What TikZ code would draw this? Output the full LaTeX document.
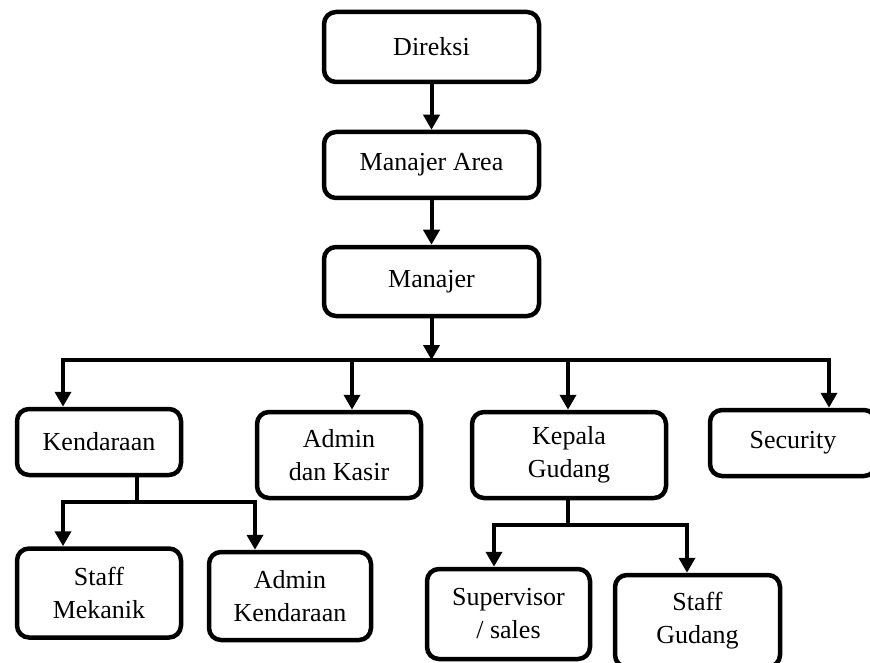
\documentclass[tikz,border=0pt]{standalone}
\usepackage{fontspec}
\setmainfont{Liberation Serif}
\usetikzlibrary{arrows.meta}
\tikzset{>={Triangle[length=15pt,width=16pt]}}
\tikzset{
  box/.style={draw,line width=4.5pt,rounded corners=12pt,align=center,
              inner sep=0pt,font=\fontsize{26}{33}\selectfont},
  link/.style={line width=4pt,line cap=rect},
  link arrow/.style={line width=4pt,->}
}

\begin{document}
\begin{tikzpicture}[x=1pt,y=-1pt]
  \useasboundingbox (0,0) rectangle (870,663);
  \clip (0,0) rectangle (870,663);

  % TOP
  \node[box,minimum width=215pt,minimum height=70pt] (direksi) at (431.5,47) {Direksi};
  \node[box,minimum width=215pt,minimum height=66pt] (area) at (431.5,165) {Manajer Area};
  \node[box,minimum width=215pt,minimum height=69pt] (manajer) at (431.5,281.5) {Manajer};

  % SECOND ROW
  \node[box,minimum width=164pt,minimum height=66pt] (kend) at (99,442) {Kendaraan};
  \node[box,minimum width=164pt,minimum height=86pt] (admin) at (339,455) {Admin\\dan Kasir};
  \node[box,minimum width=194pt,minimum height=86pt] (kepala) at (569,455) {Kepala\\Gudang};
  \node[box,minimum width=166pt,minimum height=66pt] (security) at (793,443) {Security};

  % THIRD ROW
  \node[box,minimum width=164pt,minimum height=89pt] (mekanik) at (99,593) {Staff\\Mekanik};
  \node[box,minimum width=162pt,minimum height=88pt] (adkend) at (290,596) {Admin\\Kendaraan};
  \node[box,minimum width=163pt,minimum height=90pt] (super) at (508.5,614) {Supervisor\\/ sales};
  \node[box,minimum width=165pt,minimum height=92pt] (sgudang) at (697.5,621) {Staff\\Gudang};

  % LINES
  \draw[link arrow] (direksi) -- (area);
  \draw[link arrow] (area) -- (manajer);

  \coordinate (b1) at (63,360);
  \coordinate (b2) at (352,360);
  \coordinate (b3) at (568,360);
  \coordinate (b4) at (829,360);
  \draw[link arrow] (manajer) -- (manajer |- b1);
  \draw[link] (b1) -- (b4);
  \foreach \b/\n in {b1/kend,b2/admin,b3/kepala,b4/security}
    \draw[link arrow] (\b) -- (\b |- \n.north);

  \coordinate (k) at (137,502);
  \coordinate (k1) at (63,502);
  \coordinate (k2) at (255,502);
  \draw[link] (kend.south -| k) -- (k);
  \draw[link] (k1) -- (k2);
  \draw[link arrow] (k1) -- (k1 |- mekanik.north);
  \draw[link arrow] (k2) -- (k2 |- adkend.north);

  \coordinate (g) at (568,525);
  \coordinate (g1) at (494,525);
  \coordinate (g2) at (687,525);
  \draw[link] (kepala.south -| g) -- (g);
  \draw[link] (g1) -- (g2);
  \draw[link arrow] (g1) -- (g1 |- super.north);
  \draw[link arrow] (g2) -- (g2 |- sgudang.north);
\end{tikzpicture}
\end{document}
